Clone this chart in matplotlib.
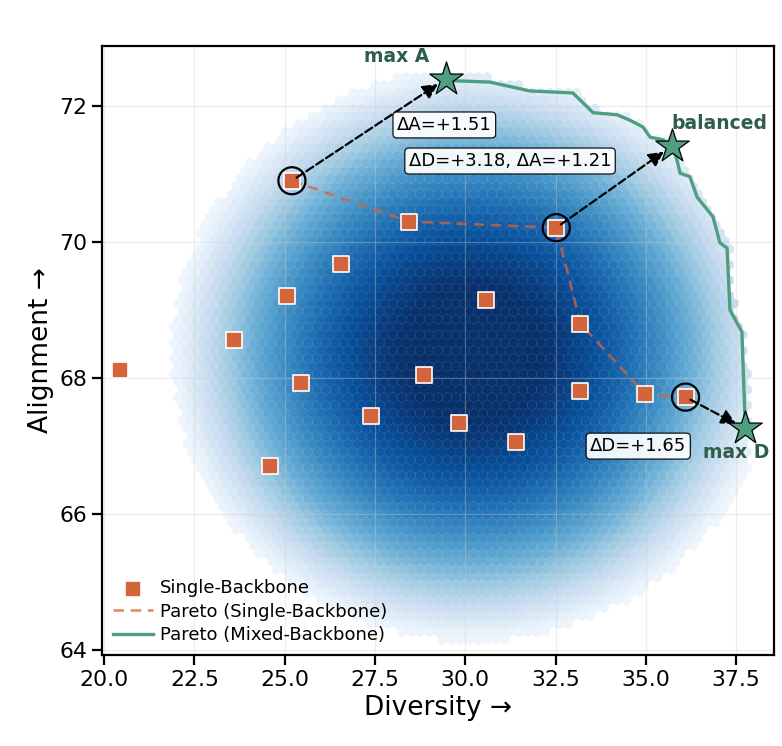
import numpy as np
import matplotlib
matplotlib.use("Agg")
import matplotlib.pyplot as plt
from matplotlib.colors import LogNorm

# ===== DATA =====
single_div = [20.44, 23.60, 25.06, 25.20, 25.45, 26.56, 27.39, 28.44, 28.86,
              29.83, 30.58, 31.41, 32.52, 33.19, 33.19, 34.99, 36.10, 24.60]
single_ali = [68.12, 68.56, 69.21, 70.90, 67.93, 69.68, 67.44, 70.30, 68.05,
              67.34, 69.14, 67.06, 70.21, 68.80, 67.81, 67.76, 67.72, 66.71]

pareto_single_div = [25.20, 28.44, 32.52, 33.19, 34.99, 36.10]
pareto_single_ali = [70.90, 70.30, 70.21, 68.80, 67.76, 67.72]

pareto_mixed_div = [29.47, 29.66, 30.68, 31.79, 32.98, 33.54, 34.20, 34.56, 34.92,
                    35.12, 35.48, 35.72, 35.86, 35.95, 36.22, 36.42, 36.86, 37.05,
                    37.25, 37.33, 37.66, 37.74, 37.74]
pareto_mixed_ali = [72.40, 72.37, 72.35, 72.22, 72.19, 71.90, 71.87, 71.79, 71.69,
                    71.54, 71.50, 71.41, 71.21, 71.01, 70.96, 70.66, 70.37, 69.99,
                    69.91, 69.00, 68.68, 67.49, 67.26]

# highlighted moves: single-backbone point -> mixed-backbone star
move_from = [(25.20, 70.90), (32.52, 70.21), (36.10, 67.72)]
move_to = [(29.47, 72.40), (35.72, 71.41), (37.74, 67.26)]
star_names = ["max A", "balanced", "max D"]
star_name_xy = [(28.11, 72.72), (35.70, 71.74), (37.50, 66.90)]
star_name_ha = ["center", "left", "center"]
delta_texts = ["ΔA=+1.51", "ΔD=+3.18, ΔA=+1.21", "ΔD=+1.65"]
delta_xy = [(29.42, 71.72), (31.24, 71.19), (34.79, 67.00)]

# density cloud of mixed-backbone candidates (centre / outer reach in data units)
cloud_center = (30.2, 68.35)
cloud_reach = (8.2, 4.15)

ORANGE = "#D4643C"
GREEN = "#4E9E7F"
DARK_GREEN = "#2E5E4B"

xlim = (19.94, 38.55)
ylim = (63.93, 72.88)

fig = plt.figure(figsize=(7.82, 7.46), dpi=100)
ax = fig.add_axes([0.1304, 0.122, 0.8594, 0.8163])

# ===== DENSITY BACKGROUND =====
gx, gy = np.meshgrid(np.arange(xlim[0], xlim[1], 0.02), np.arange(ylim[0], ylim[1], 0.02))
gx, gy = gx.ravel(), gy.ravel()
rho = np.hypot((gx - cloud_center[0]) / cloud_reach[0], (gy - cloud_center[1]) / cloud_reach[1])
L = 5.0
dens = np.exp(-0.96 * L * rho ** 2)
front_y = np.interp(gx, pareto_mixed_div, pareto_mixed_ali)
keep = (rho < 1.0) & (gy <= front_y) & (gx <= pareto_mixed_div[-1])
ax.hexbin(gx[keep], gy[keep], C=dens[keep], reduce_C_function=np.mean,
          gridsize=(75, 39), extent=(xlim[0], xlim[1], ylim[0], ylim[1]),
          cmap="Blues", norm=LogNorm(vmin=np.exp(-L), vmax=np.exp(-0.25)),
          linewidths=0.2, edgecolors="face", zorder=1)

ax.grid(True, color="#cccccc", alpha=0.35, linewidth=0.9, zorder=2)

# ===== PARETO FRONTS & POINTS =====
ax.plot(pareto_mixed_div, pareto_mixed_ali, color=GREEN, lw=2.4, zorder=3,
        label="Pareto (Mixed-Backbone)")
ax.plot(pareto_single_div, pareto_single_ali, color=ORANGE, alpha=0.75, lw=1.9,
        ls=(0, (4, 2.5)), zorder=3, label="Pareto (Single-Backbone)")
ax.scatter(single_div, single_ali, marker="s", s=130, color=ORANGE,
           edgecolors="white", linewidths=1.2, zorder=5, label="Single-Backbone")

sx, sy = zip(*move_to)
ax.scatter(sx, sy, marker="*", s=640, color=GREEN, edgecolors="black",
           linewidths=0.9, zorder=7)
fx, fy = zip(*move_from)
ax.scatter(fx, fy, marker="o", s=380, facecolors="none", edgecolors="black",
           linewidths=1.6, zorder=6)

for (x0, y0), (x1, y1) in zip(move_from, move_to):
    ax.annotate("", xy=(x1, y1), xytext=(x0, y0),
                arrowprops=dict(arrowstyle="-|>", color="black", lw=1.6, ls="--",
                                mutation_scale=22, shrinkA=4, shrinkB=7),
                zorder=6)

for name, (x, y), ha in zip(star_names, star_name_xy, star_name_ha):
    ax.text(x, y, name, color=DARK_GREEN, fontsize=13.5, fontweight="bold",
            ha=ha, va="center", zorder=8)

for t, (x, y) in zip(delta_texts, delta_xy):
    ax.text(x, y, t, fontsize=13, ha="center", va="center", zorder=8,
            bbox=dict(boxstyle="round,pad=0.22", fc="white", ec="black", lw=0.9, alpha=0.92))

# ===== AXES STYLE =====
ax.set_xlim(*xlim)
ax.set_ylim(*ylim)
ax.set_xticks([20.0, 22.5, 25.0, 27.5, 30.0, 32.5, 35.0, 37.5])
ax.set_yticks([64, 66, 68, 70, 72])
ax.set_xlabel("Diversity →", fontsize=19)
ax.set_ylabel("Alignment →", fontsize=19)
ax.tick_params(axis="both", labelsize=15.8, length=7, width=1.6, direction="out")
for s in ax.spines.values():
    s.set_linewidth(1.6)

handles, labels = ax.get_legend_handles_labels()
order = [2, 1, 0]
ax.legend([handles[i] for i in order], [labels[i] for i in order], loc="lower left",
          frameon=False, fontsize=13, handlelength=2.2, handletextpad=0.4,
          labelspacing=0.3, borderaxespad=0.2, bbox_to_anchor=(0.0, 0.0))

fig.savefig("out.png", dpi=100)
